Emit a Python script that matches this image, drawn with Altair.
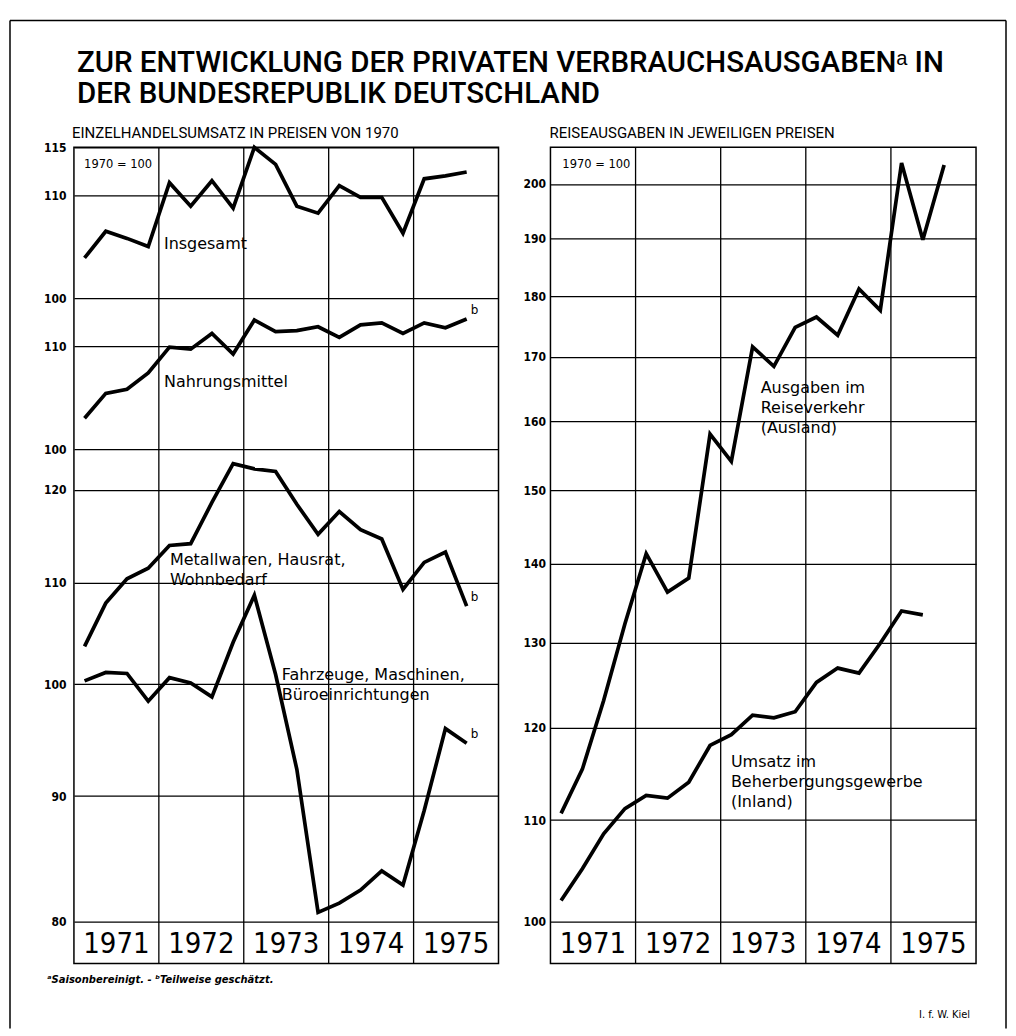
import altair as alt
import pandas as pd

# ---------------- data ----------------
YEARS = [1971, 1972, 1973, 1974, 1975]
YEAR_BOUNDS = [1972, 1973, 1974, 1975]
# quarter mid-points (1971 I ... 1975 IV)
QPOS = [1971.125, 1971.375, 1971.625, 1971.875,
        1972.125, 1972.375, 1972.625, 1972.875,
        1973.125, 1973.375, 1973.625, 1973.875,
        1974.125, 1974.375, 1974.625, 1974.875,
        1975.125, 1975.375, 1975.625, 1975.875]

insgesamt = [103.8, 106.4, 105.7, 104.9, 111.3, 108.9, 111.5, 108.7, 115.0, 113.2,
             108.9, 108.2, 111.0, 109.8, 109.8, 106.2, 111.7, 112.0, 112.4]
nahrung = [102.9, 105.3, 105.7, 107.3, 109.9, 109.7, 111.3, 109.2, 112.7, 111.5,
           111.6, 112.0, 110.9, 112.2, 112.4, 111.3, 112.4, 111.9, 112.8]
metall = [103.6, 107.9, 110.4, 111.5, 113.9, 114.1, 118.6, 123.0, 122.4, 122.1,
          118.4, 115.1, 117.6, 115.6, 114.6, 109.3, 112.1, 113.2, 107.6]
fahrzeuge = [100.3, 101.1, 101.0, 98.4, 100.6, 100.1, 98.8, 104.0, 108.7, 100.9,
             92.3, 80.7, 81.4, 82.4, 83.9, 82.8, 88.8, 95.9, 94.6]
ausland = [110.7, 115.4, 123.1, 132.3, 141.3, 136.3, 138.1, 158.1, 154.1, 171.6,
           168.5, 174.8, 176.5, 173.5, 181.2, 177.6, 204.0, 189.8, 203.6]
inland = [102.0, 105.1, 108.6, 111.2, 112.6, 112.3, 114.0, 118.0, 119.2, 121.4,
          121.1, 121.8, 125.2, 126.9, 126.3, 129.9, 133.9, 133.4]

TITLE1 = "ZUR ENTWICKLUNG DER PRIVATEN VERBRAUCHSAUSGABENᵃ IN"
TITLE2 = "DER BUNDESREPUBLIK DEUTSCHLAND"
SUB_LEFT = "EINZELHANDELSUMSATZ IN PREISEN VON 1970"
SUB_RIGHT = "REISEAUSGABEN IN JEWEILIGEN PREISEN"
FOOTNOTE = "ᵃSaisonbereinigt. -  ᵇTeilweise geschätzt."
SOURCE = "I. f. W. Kiel"
BASE = "1970 = 100"

# ---------------- style ----------------
LINE_FONT = "DejaVu Sans"
NUM_FONT = "Liberation Sans Narrow, DejaVu Sans Condensed, Liberation Sans, sans-serif"
TITLE_FONT = "Roboto, Liberation Sans, sans-serif"
LW = 3.7
GRID_W = 1.3
FRAME = alt.ViewBackground(stroke="black", strokeWidth=1.5, fill="white")

LW_PX = 425
RW_PX = 426
GAP = 52
# vertical pixel bands inside each column (top of plot = 0)
H_TOP = 151
H_MID = 151
H_PLOT = 775
H_ALL = 817


def xenc():
    return alt.X("x:Q", scale=alt.Scale(domain=[1971, 1976], nice=False, zero=False),
                 axis=None)


def yenc(domain, ticks, rng, pad):
    return alt.Y("v:Q", scale=alt.Scale(type="log", domain=domain, range=rng, nice=False),
                 axis=alt.Axis(values=ticks, grid=True, gridColor="black", orient="left",
                               gridWidth=GRID_W, gridOpacity=1, ticks=False,
                               domain=False, title=None, labelFont=NUM_FONT,
                               labelFontSize=12, labelFontWeight="bold",
                               labelColor="black", labelPadding=pad, format="d"))


def panel(series, labels, box, domain, ticks, rng, pad):
    X = xenc()
    Y = yenc(domain, ticks, rng, pad)
    layers = []
    for vals, bmark in series:
        df = pd.DataFrame({"x": QPOS[:len(vals)], "v": vals})
        layers.append(alt.Chart(df).mark_line(color="black", strokeWidth=LW,
                                              strokeJoin="miter", strokeMiterLimit=3)
                      .encode(x=X, y=Y))
        if bmark:
            end = df.tail(1)
            layers.append(alt.Chart(end).mark_text(text="b", align="left", baseline="bottom",
                                                   dx=4, dy=-2, font=LINE_FONT, fontSize=12,
                                                   color="black", fill="black")
                          .encode(x=X, y=Y))
    lab = pd.DataFrame(labels, columns=["t", "x", "v"])
    layers.append(alt.Chart(lab).mark_text(align="left", baseline="middle", font=LINE_FONT,
                                           fontSize=16, color="black")
                  .encode(x=X, y=Y, text="t:N"))
    if box is not None:
        bdf = pd.DataFrame([box], columns=["t", "x", "v"])
        layers.append(alt.Chart(bdf).mark_text(align="left", baseline="middle",
                                               font=LINE_FONT, fontSize=11.5, color="black")
                      .encode(x=X, y=Y, text="t:N"))
    return alt.layer(*layers)


def dividers():
    df = pd.DataFrame({"x": YEAR_BOUNDS})
    return (alt.Chart(df).mark_rule(color="black", strokeWidth=GRID_W)
            .encode(x=xenc(), y=alt.value(0), y2=alt.value(H_ALL)))


def years_layer():
    df = pd.DataFrame({"x": [y + 0.5 for y in YEARS], "t": [str(y) for y in YEARS]})
    return (alt.Chart(df).mark_text(font=NUM_FONT, fontSize=29, baseline="middle",
                                    align="center", color="black")
            .encode(x=xenc(), y=alt.value((H_PLOT + H_ALL) / 2 + 1), text="t:N"))


# ---------------- left column ----------------
top = panel([(insgesamt, False)], [("Insgesamt", 1972.06, 105.2)],
            (BASE, 1971.12, 113.1), [100, 115], [100, 110, 115], [H_TOP, 0], 8)
mid = panel([(nahrung, True)], [("Nahrungsmittel", 1972.06, 106.4)],
            None, [100, 115], [100, 110], [H_TOP + H_MID, H_TOP], 8)
bot = panel([(metall, True), (fahrzeuge, True)],
            [("Metallwaren, Hausrat,", 1972.13, 112.4),
             ("Wohnbedarf", 1972.13, 110.3),
             ("Fahrzeuge, Maschinen,", 1973.447, 100.9),
             ("Büroeinrichtungen", 1973.447, 99.0)],
            None, [80, 124.7], [80, 90, 100, 110, 120], [H_PLOT, H_TOP + H_MID], 8)

one = pd.DataFrame({"d": [0]})
R = LW_PX + GAP + RW_PX


def txt(text, x, y, font, size, **kw):
    return (alt.Chart(one).mark_text(text=text, align="left", baseline="alphabetic",
                                     font=font, fontSize=size, color="black", **kw)
            .encode(x=alt.value(x), y=alt.value(y)))


deco = [
    txt(TITLE1, 3, -75, TITLE_FONT, 29.5, fontWeight=500),
    txt(TITLE2, 3, -44, TITLE_FONT, 29.5, fontWeight=500),
    txt(SUB_LEFT, -2, -9, TITLE_FONT, 15),
    txt(SUB_RIGHT, LW_PX + GAP - 1, -9, TITLE_FONT, 15),
    txt(FOOTNOTE, -27, H_ALL + 19, LINE_FONT, 10, fontStyle="italic", fontWeight="bold"),
    txt(SOURCE, R - 57, H_ALL + 54, NUM_FONT, 11),
    # page frame (left, top, right)
    alt.Chart(one).mark_rule(color="black", strokeWidth=1.5)
    .encode(x=alt.value(-64), y=alt.value(-127), y2=alt.value(H_ALL + 65)),
    alt.Chart(one).mark_rule(color="black", strokeWidth=1.5)
    .encode(x=alt.value(-64), x2=alt.value(R + 30), y=alt.value(-127)),
    alt.Chart(one).mark_rule(color="black", strokeWidth=1.5)
    .encode(x=alt.value(R + 30), y=alt.value(-127), y2=alt.value(H_ALL + 65)),
    # invisible spacer keeping the page's top margin
    alt.Chart(one).mark_rule(color="transparent", strokeWidth=1)
    .encode(x=alt.value(0), x2=alt.value(5), y=alt.value(-137)),
]

left = (alt.layer(dividers(), top, mid, bot, years_layer(), *deco)
        .resolve_scale(y="independent")
        .resolve_axis(y="independent")
        .properties(width=LW_PX, height=H_ALL, view=FRAME))

# ---------------- right column ----------------
rpan = panel([(ausland, False), (inland, False)],
             [("Ausgaben  im", 1973.47, 165.1),
              ("Reiseverkehr", 1973.47, 162.0),
              ("(Ausland)", 1973.47, 159.0),
              ("Umsatz  im", 1973.12, 116.2),
              ("Beherbergungsgewerbe", 1973.12, 114.0),
              ("(Inland)", 1973.12, 111.9)],
             (BASE, 1971.14, 203.6), [100, 207],
             [100, 110, 120, 130, 140, 150, 160, 170, 180, 190, 200], [H_PLOT, 0], 5)

right = (alt.layer(dividers(), rpan, years_layer())
         .properties(width=RW_PX, height=H_ALL, view=FRAME))

chart = (alt.hconcat(left, right, spacing=GAP, bounds="flush")
         .properties(padding=0, background="white")
         .configure_view(strokeWidth=0))

chart.save("out.html", embed_options={"renderer": "svg", "actions": False})
